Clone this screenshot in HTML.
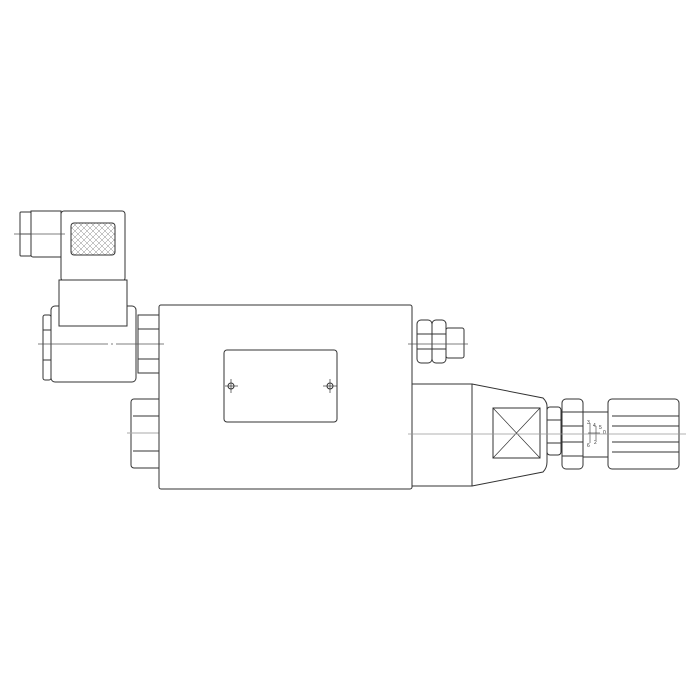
<!DOCTYPE html>
<html><head><style>body{margin:0;background:#fff}svg{display:block}</style></head><body>
<svg width="700" height="700" viewBox="0 0 700 700" xmlns="http://www.w3.org/2000/svg" fill="none" stroke="#333" stroke-width="1">
<defs><pattern id="m" width="6" height="6" patternUnits="userSpaceOnUse"><path d="M0 0L6 6M6 0L0 6" stroke="#888" stroke-width="0.5"/></pattern></defs>
<!-- solenoid connector -->
<rect x="20" y="212" width="11" height="44" rx="1"/>
<line x1="20" y1="234" x2="31" y2="234"/>
<path d="M31 211 H61 V257 H33 a2 2 0 0 1 -2 -2 Z"/>
<rect x="61" y="211" width="64" height="70" rx="3"/>
<rect x="71" y="223" width="44" height="32" rx="3" fill="url(#m)"/>
<line x1="14" y1="234" x2="65" y2="234" stroke="#555" stroke-width="0.7"/>
<rect x="51" y="306" width="85" height="76" rx="4"/>
<rect x="59" y="280" width="68" height="46" fill="#fff"/>
<rect x="43" y="315" width="8" height="65" rx="2"/>
<line x1="43" y1="330" x2="51" y2="330"/><line x1="43" y1="360" x2="51" y2="360"/>
<rect x="138" y="315" width="21" height="58"/>
<line x1="138" y1="329" x2="159" y2="329"/><line x1="138" y1="359" x2="159" y2="359"/>
<line x1="38" y1="344" x2="164" y2="344" stroke="#555" stroke-width="0.7" stroke-dasharray="70 3 2 3"/>
<!-- left bottom fitting -->
<path d="M159 399 H134 a3 3 0 0 0 -3 3 V465 a3 3 0 0 0 3 3 H159"/>
<line x1="133" y1="416" x2="159" y2="416"/><line x1="133" y1="451" x2="159" y2="451"/>
<line x1="127" y1="433" x2="159" y2="433" stroke="#aaa"/>
<!-- main body -->
<rect x="159" y="305" width="253" height="184" rx="2"/>
<rect x="224" y="350" width="113" height="72" rx="3"/>
<circle cx="231" cy="386" r="3"/><line x1="225" y1="386" x2="238" y2="386" stroke-width="0.7"/><line x1="231" y1="379" x2="231" y2="393" stroke-width="0.7"/>
<circle cx="330" cy="386" r="3"/><line x1="323" y1="386" x2="337" y2="386" stroke-width="0.7"/><line x1="330" y1="379" x2="330" y2="393" stroke-width="0.7"/>
<!-- upper right fitting -->
<rect x="417" y="320" width="15" height="43" rx="4"/>
<rect x="432" y="320" width="14" height="43" rx="4"/>
<line x1="417" y1="334" x2="446" y2="334"/><line x1="417" y1="349" x2="446" y2="349"/>
<rect x="446" y="328" width="18" height="30" rx="2"/>
<line x1="408" y1="344" x2="468" y2="344" stroke="#555" stroke-width="0.7"/>
<!-- lower right -->
<rect x="412" y="384" width="60" height="102"/>
<path d="M472 384 L543 398 Q547 402 547 406 V462 Q547 468 543 472 L472 486"/>
<rect x="493" y="408" width="47" height="50"/>
<path d="M493 408 L540 458 M540 408 L493 458" stroke-width="0.7"/>
<rect x="547" y="407" width="14" height="48" rx="3"/>
<line x1="547" y1="420" x2="561" y2="420"/><line x1="547" y1="443" x2="561" y2="443"/>
<rect x="562" y="399" width="21" height="70" rx="4"/>
<line x1="562" y1="412" x2="583" y2="412"/><line x1="562" y1="426" x2="583" y2="426"/><line x1="562" y1="442" x2="583" y2="442"/><line x1="562" y1="456" x2="583" y2="456"/>
<rect x="583" y="412" width="25" height="45"/>
<g stroke-width="0.6"><line x1="590" y1="423" x2="590" y2="443"/><line x1="596" y1="426" x2="596" y2="440"/><line x1="588" y1="433" x2="600" y2="433"/></g>
<g font-family="Liberation Sans" font-size="5" fill="#333" stroke="none"><text x="587" y="424">3</text><text x="593" y="427">4</text><text x="599" y="429">5</text><text x="587" y="447">6</text><text x="594" y="444">2</text><text x="603" y="434">0</text></g>
<rect x="608" y="399" width="71" height="70" rx="4"/>
<line x1="612" y1="416" x2="679" y2="416"/><line x1="612" y1="426" x2="679" y2="426"/><line x1="612" y1="442" x2="679" y2="442"/><line x1="612" y1="452" x2="679" y2="452"/>
<line x1="408" y1="434" x2="686" y2="434" stroke="#999" stroke-width="0.8"/>
</svg>
</body></html>
